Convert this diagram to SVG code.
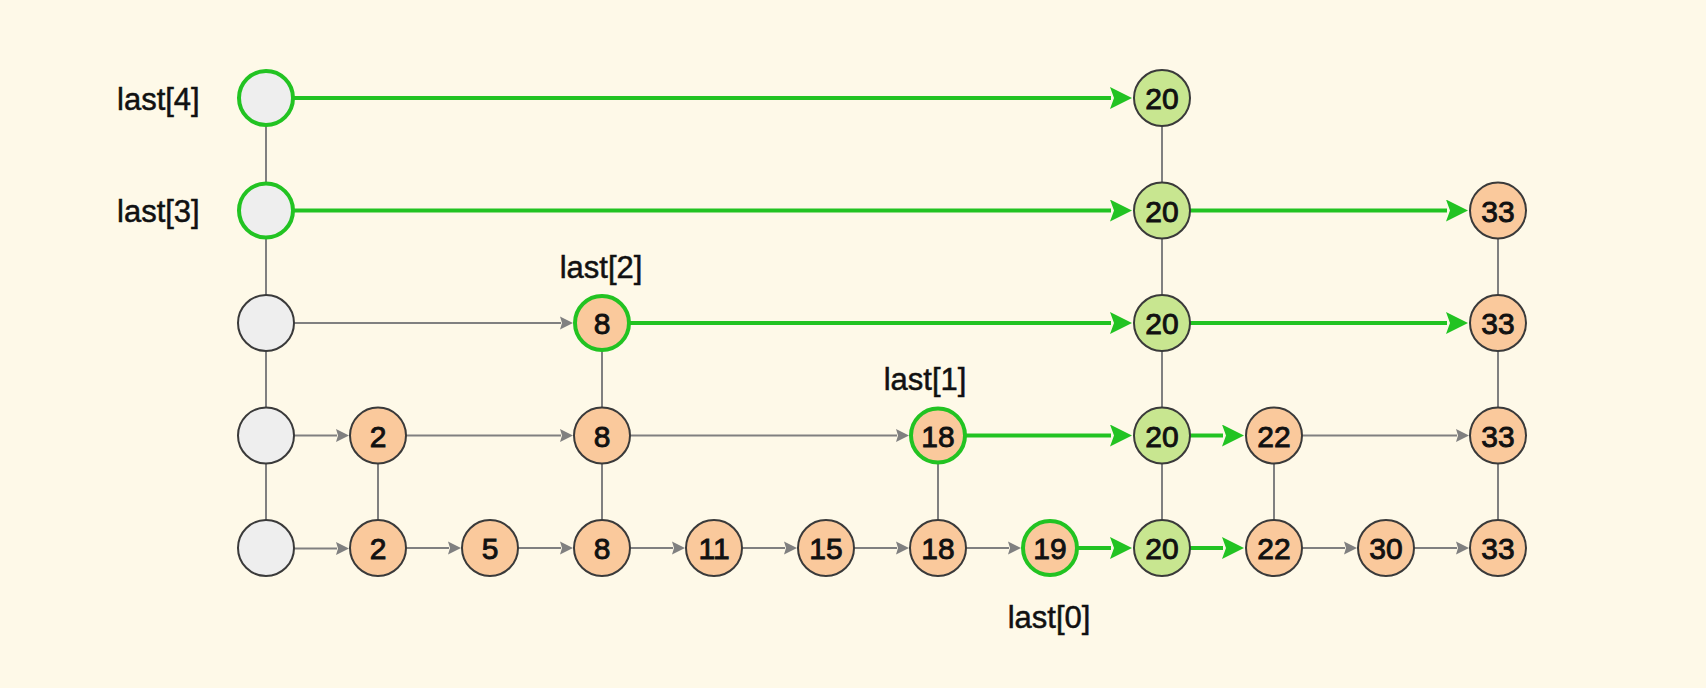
<svg xmlns="http://www.w3.org/2000/svg" width="1706" height="688" viewBox="0 0 1706 688">
<defs>
<style>
.n{stroke:#3a3a3a;stroke-width:2}
.head{fill:#eeeeee}
.o{fill:#fac99c}
.g{fill:#c8e690}
.hl{stroke:#22c322;stroke-width:4}
.t{font-family:"Liberation Sans",Arial,sans-serif;font-size:30px;fill:#111;stroke:#111;stroke-width:0.9px;text-anchor:middle}
.lbl{font-family:"Liberation Sans",Arial,sans-serif;font-size:31px;fill:#111;stroke:#111;stroke-width:0.5px}
.ga{stroke:#808080;stroke-width:2;fill:none;marker-end:url(#ag)}
.gr{stroke:#22c322;stroke-width:4;fill:none;marker-end:url(#agr)}
.v{stroke:#808080;stroke-width:2;fill:none}
</style>
<marker id="ag" markerUnits="userSpaceOnUse" markerWidth="14" markerHeight="14" viewBox="0 0 14 14" refX="1" refY="7" orient="auto"><path d="M0,0.5 L13,7 L0,13.5 L2,7 z" fill="#808080"/></marker>
<marker id="agr" markerUnits="userSpaceOnUse" markerWidth="23" markerHeight="22" viewBox="0 0 23 22" refX="1" refY="11" orient="auto"><path d="M0,0 L22,11 L0,22 L4,11 z" fill="#22c322"/></marker>
</defs>
<rect width="1706" height="688" fill="#fef9e8"/>
<g id="connectors">
<path class="v" d="M266,126 V182 M266,238.5 V295 M266,351 V407.5 M266,463.5 V520"/>
<path class="v" d="M378,463.5 V520"/>
<path class="v" d="M602,351 V407.5 M602,463.5 V520"/>
<path class="v" d="M938,463.5 V520"/>
<path class="v" d="M1162,126 V182 M1162,238.5 V295 M1162,351 V407.5 M1162,463.5 V520"/>
<path class="v" d="M1274,463.5 V520"/>
<path class="v" d="M1498,238.5 V295 M1498,351 V407.5 M1498,463.5 V520"/>
<line class="gr" x1="294" y1="98" x2="1111" y2="98"/>
<line class="gr" x1="294" y1="210.5" x2="1111" y2="210.5"/>
<line class="gr" x1="1190" y1="210.5" x2="1447" y2="210.5"/>
<line class="ga" x1="294" y1="323" x2="561" y2="323"/>
<line class="gr" x1="630" y1="323" x2="1111" y2="323"/>
<line class="gr" x1="1190" y1="323" x2="1447" y2="323"/>
<line class="ga" x1="294" y1="435.5" x2="337" y2="435.5"/>
<line class="ga" x1="406" y1="435.5" x2="561" y2="435.5"/>
<line class="ga" x1="630" y1="435.5" x2="897" y2="435.5"/>
<line class="gr" x1="966" y1="435.5" x2="1111" y2="435.5"/>
<line class="gr" x1="1190" y1="435.5" x2="1223" y2="435.5"/>
<line class="ga" x1="1302" y1="435.5" x2="1457" y2="435.5"/>
<line class="ga" x1="294" y1="548.5" x2="337" y2="548.5"/>
<line class="ga" x1="406" y1="548" x2="449" y2="548"/>
<line class="ga" x1="518" y1="548" x2="561" y2="548"/>
<line class="ga" x1="630" y1="548" x2="673" y2="548"/>
<line class="ga" x1="742" y1="548" x2="785" y2="548"/>
<line class="ga" x1="854" y1="548" x2="897" y2="548"/>
<line class="ga" x1="966" y1="548" x2="1009" y2="548"/>
<line class="gr" x1="1078" y1="548" x2="1111" y2="548"/>
<line class="gr" x1="1190" y1="548" x2="1223" y2="548"/>
<line class="ga" x1="1302" y1="548" x2="1345" y2="548"/>
<line class="ga" x1="1414" y1="548" x2="1457" y2="548"/>
</g>
<g id="labels">
<text class="lbl" x="117" y="110">last[4]</text>
<text class="lbl" x="117" y="222">last[3]</text>
<text class="lbl" x="601" y="278" text-anchor="middle">last[2]</text>
<text class="lbl" x="925" y="390" text-anchor="middle">last[1]</text>
<text class="lbl" x="1049" y="628" text-anchor="middle">last[0]</text>
</g>
<g id="h4"><circle class="head hl" cx="266" cy="98" r="27"/></g>
<g id="n4_20"><circle class="g n" cx="1162" cy="98" r="28"/><text class="t" x="1162" y="109">20</text></g>
<g id="h3"><circle class="head hl" cx="266" cy="210.5" r="27"/></g>
<g id="n3_20"><circle class="g n" cx="1162" cy="210.5" r="28"/><text class="t" x="1162" y="221.5">20</text></g>
<g id="n3_33"><circle class="o n" cx="1498" cy="210.5" r="28"/><text class="t" x="1498" y="221.5">33</text></g>
<g id="h2"><circle class="head n" cx="266" cy="323" r="28"/></g>
<g id="n2_8"><circle class="o hl" cx="602" cy="323" r="27"/><text class="t" x="602" y="334">8</text></g>
<g id="n2_20"><circle class="g n" cx="1162" cy="323" r="28"/><text class="t" x="1162" y="334">20</text></g>
<g id="n2_33"><circle class="o n" cx="1498" cy="323" r="28"/><text class="t" x="1498" y="334">33</text></g>
<g id="h1"><circle class="head n" cx="266" cy="435.5" r="28"/></g>
<g id="n1_2"><circle class="o n" cx="378" cy="435.5" r="28"/><text class="t" x="378" y="446.5">2</text></g>
<g id="n1_8"><circle class="o n" cx="602" cy="435.5" r="28"/><text class="t" x="602" y="446.5">8</text></g>
<g id="n1_18"><circle class="o hl" cx="938" cy="435.5" r="27"/><text class="t" x="938" y="446.5">18</text></g>
<g id="n1_20"><circle class="g n" cx="1162" cy="435.5" r="28"/><text class="t" x="1162" y="446.5">20</text></g>
<g id="n1_22"><circle class="o n" cx="1274" cy="435.5" r="28"/><text class="t" x="1274" y="446.5">22</text></g>
<g id="n1_33"><circle class="o n" cx="1498" cy="435.5" r="28"/><text class="t" x="1498" y="446.5">33</text></g>
<g id="h0"><circle class="head n" cx="266" cy="548" r="28"/></g>
<g id="n0_2"><circle class="o n" cx="378" cy="548" r="28"/><text class="t" x="378" y="559">2</text></g>
<g id="n0_5"><circle class="o n" cx="490" cy="548" r="28"/><text class="t" x="490" y="559">5</text></g>
<g id="n0_8"><circle class="o n" cx="602" cy="548" r="28"/><text class="t" x="602" y="559">8</text></g>
<g id="n0_11"><circle class="o n" cx="714" cy="548" r="28"/><text class="t" x="714" y="559">11</text></g>
<g id="n0_15"><circle class="o n" cx="826" cy="548" r="28"/><text class="t" x="826" y="559">15</text></g>
<g id="n0_18"><circle class="o n" cx="938" cy="548" r="28"/><text class="t" x="938" y="559">18</text></g>
<g id="n0_19"><circle class="o hl" cx="1050" cy="548" r="27"/><text class="t" x="1050" y="559">19</text></g>
<g id="n0_20"><circle class="g n" cx="1162" cy="548" r="28"/><text class="t" x="1162" y="559">20</text></g>
<g id="n0_22"><circle class="o n" cx="1274" cy="548" r="28"/><text class="t" x="1274" y="559">22</text></g>
<g id="n0_30"><circle class="o n" cx="1386" cy="548" r="28"/><text class="t" x="1386" y="559">30</text></g>
<g id="n0_33"><circle class="o n" cx="1498" cy="548" r="28"/><text class="t" x="1498" y="559">33</text></g>
</svg>
